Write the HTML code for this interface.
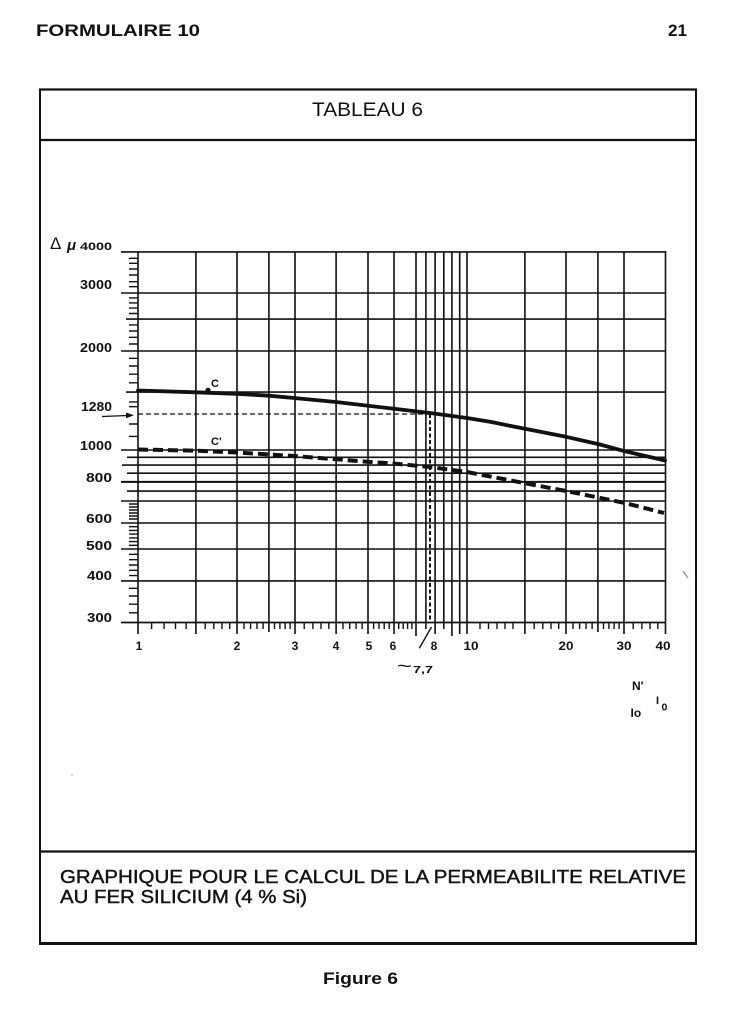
<!DOCTYPE html>
<html>
<head>
<meta charset="utf-8">
<style>
html,body{margin:0;padding:0;background:#fff;}
svg{display:block;}
text{font-family:"Liberation Sans",Arial,sans-serif;fill:#111;}
</style>
</head>
<body>
<svg width="746" height="1024" viewBox="0 0 746 1024" xmlns="http://www.w3.org/2000/svg">
<rect x="0" y="0" width="746" height="1024" fill="#fff"/>

<text x="36" y="36" font-size="17" font-weight="bold" textLength="164" lengthAdjust="spacingAndGlyphs">FORMULAIRE 10</text>
<text x="668" y="36" font-size="17" font-weight="bold" textLength="19" lengthAdjust="spacingAndGlyphs">21</text>

<g stroke="#111" fill="none">
<path d="M39 89.5H697M39 140H697M39 851.5H697" stroke-width="2.2"/>
<path d="M40 89V944M696 89V944" stroke-width="2"/>
<path d="M39 943.5H697" stroke-width="3"/>
</g>

<text x="312" y="116" font-size="19" textLength="111" lengthAdjust="spacingAndGlyphs">TABLEAU 6</text>

<g stroke="#111" stroke-width="1.6" fill="none">
<path d="M138 252V634M195.9 252V634M237 252V634M268.9 252V632M295 252V634M336.1 252V634M368 252V634M394 252V634M416 252V636M425.9 252V629M435.1 252V634M443.8 252V629M451.9 252V636M459.7 252V634M467 252V634M524.9 252V634M566 252V634M597.9 252V632M624 252V634M665.5 251V634"/>
<path d="M121 251.9H666M121 293H666M126 319.1H666M121 351H666M126 392.1H666M121 450H666M127 457.3H666M122 465.1H666M127 473.2H666M127 491.1H666M121 501H666M121 523H666M121 549H666M121 580.9H666"/>
<path d="M121 481.9H666" stroke-width="2"/>
<path d="M121 622.5H666" stroke-width="1.8"/>
</g>

<path stroke="#111" stroke-width="1.4" fill="none" d="M129 258.3H138M129 263.3H138M129 269H138M129 275H138M129 281.7H138M129 286.7H138M129 297.9H138M129 302.9H138M129 308.1H138M129 313.5H138M129 324.9H138M129 331H138M129 337.3H138M129 344H138M129 358.3H138M129 366H138M129 374.2H138M129 382.8H138M129 401.9H138M129 406.7H138M129 424H138M129 436.4H138M129 504H138M129 507H138M129 510H138M129 513H138M129 516H138M129 519H138M129 526.7H138M129 530.4H138M129 534.1H138M129 537.9H138M129 541.6H138M129 545.3H138M129 554.3H138M129 559.7H138M129 565H138M129 570.3H138M129 575.6H138M129 588.3H138M129 596H138M129 604.2H138M129 612.8H138"/>

<path stroke="#111" stroke-width="1.4" fill="none" d="M151.6 623V629M164.1 623V629M175.5 623V629M186.1 623V629M205.2 623V629M213.8 623V629M222 623V629M229.7 623V629M244 623V629M250.6 623V629M257 623V629M263.1 623V629M274.5 623V629M279.9 623V629M285.1 623V629M290.1 623V629M304.2 623V629M312.9 623V629M321 623V629M328.8 623V629M343 623V629M349.7 623V629M356.1 623V629M362.1 623V629M373.6 623V629M379 623V629M384.2 623V629M389.2 623V629M398.7 623V629M403.2 623V629M407.6 623V629M411.9 623V629M480 623V629M488.5 623V629M497 623V629M505 623V629M513 623V629M534.2 623V629M542.8 623V629M551 623V629M558.7 623V629M573 623V629M579.6 623V629M586 623V629M592.1 623V629M603.5 623V629M608.9 623V629M614.1 623V629M619.1 623V629M633.2 623V629M641.9 623V629M650 623V629M657.8 623V629"/>

<line x1="138" y1="414" x2="431" y2="414" stroke="#111" stroke-width="1.3" stroke-dasharray="5 3"/>
<line x1="430" y1="414" x2="430" y2="623" stroke="#111" stroke-width="2" stroke-dasharray="4 2.5"/>
<line x1="102" y1="416.5" x2="128" y2="415.5" stroke="#111" stroke-width="1.3"/>
<polygon points="134,415.3 126,412.5 126,418.3" fill="#111"/>

<polyline fill="none" stroke="#111" stroke-width="3.8" stroke-linejoin="round" stroke-linecap="round" points="138,390.5 196,392.3 237,393.8 269,395.7 294,398 336,402 367,405.6 394,408.8 433,413.4 467,418 490,421.8 525,428.8 566,436.8 600,444.5 625,451.3 665,460.5"/>
<circle cx="208" cy="390.2" r="2.6" fill="#111"/>

<polyline fill="none" stroke="#111" stroke-width="4" stroke-dasharray="10 5" points="138,449.5 196,450.7 237,452.5 269,454.5 294,456 336,459.3 367,461.7 393,463.5 430,467 467,472 524,483 566,491 625,503 664,513"/>

<text x="211" y="387" font-size="11" font-weight="bold">C</text>
<text x="211" y="445" font-size="11" font-weight="bold">C'</text>

<text x="50" y="249" font-size="17">Δ</text>
<text x="67" y="250" font-size="15" font-weight="bold" font-style="italic">μ</text>
<text x="80" y="250" font-size="11" font-weight="bold" textLength="32" lengthAdjust="spacingAndGlyphs">4000</text>
<g font-size="12.5" font-weight="bold" text-anchor="end">
<text x="112" y="289" textLength="32" lengthAdjust="spacingAndGlyphs">3000</text>
<text x="112" y="352" textLength="32" lengthAdjust="spacingAndGlyphs">2000</text>
<text x="112" y="411" textLength="31" lengthAdjust="spacingAndGlyphs">1280</text>
<text x="112" y="450" textLength="32" lengthAdjust="spacingAndGlyphs">1000</text>
<text x="112" y="482" textLength="26" lengthAdjust="spacingAndGlyphs">800</text>
<text x="112" y="523" textLength="26" lengthAdjust="spacingAndGlyphs">600</text>
<text x="112" y="550" textLength="26" lengthAdjust="spacingAndGlyphs">500</text>
<text x="112" y="580" textLength="25" lengthAdjust="spacingAndGlyphs">400</text>
<text x="112" y="622" textLength="25" lengthAdjust="spacingAndGlyphs">300</text>
</g>

<g font-size="12" font-weight="bold" text-anchor="middle">
<text x="139" y="650">1</text>
<text x="237" y="650">2</text>
<text x="295" y="650">3</text>
<text x="336" y="650">4</text>
<text x="369" y="650">5</text>
<text x="393" y="650">6</text>
<text x="434" y="650">8</text>
<text x="471" y="650" textLength="15" lengthAdjust="spacingAndGlyphs">10</text>
<text x="566" y="650" textLength="15" lengthAdjust="spacingAndGlyphs">20</text>
<text x="624" y="650" textLength="15" lengthAdjust="spacingAndGlyphs">30</text>
<text x="663" y="650" textLength="15" lengthAdjust="spacingAndGlyphs">40</text>
</g>

<line x1="419.3" y1="648.3" x2="431.5" y2="627" stroke="#111" stroke-width="1.4"/>
<text x="397" y="672" font-size="18" textLength="15" lengthAdjust="spacingAndGlyphs">~</text>
<text x="413" y="673" font-size="10.5" font-weight="bold" textLength="20" lengthAdjust="spacingAndGlyphs">7,7</text>

<text x="632" y="690" font-size="12" font-weight="bold">N'</text>
<text x="656" y="704" font-size="11" font-weight="bold">I</text>
<text x="661.5" y="710.5" font-size="10.5" font-weight="bold">0</text>
<text x="630.5" y="717" font-size="12" font-weight="bold">Io</text>

<line x1="683" y1="571" x2="688" y2="578" stroke="#999" stroke-width="1.5"/>
<circle cx="72" cy="775" r="0.8" fill="#999"/>

<g stroke="#111" stroke-width="0.4">
<text x="60" y="883" font-size="18" textLength="626" lengthAdjust="spacingAndGlyphs">GRAPHIQUE POUR LE CALCUL DE LA PERMEABILITE RELATIVE</text>
<text x="60" y="903" font-size="18" textLength="247" lengthAdjust="spacingAndGlyphs">AU FER SILICIUM (4 %  Si)</text>
</g>

<text x="323" y="984" font-size="16.5" font-weight="bold" textLength="75" lengthAdjust="spacingAndGlyphs">Figure 6</text>
</svg>
</body>
</html>
